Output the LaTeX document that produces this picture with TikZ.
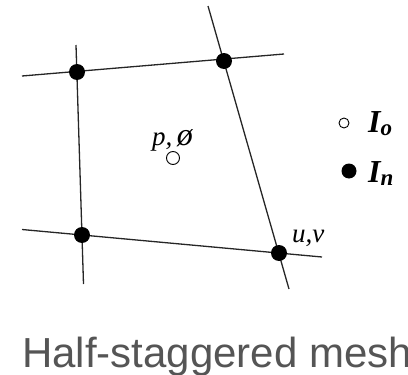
\documentclass[tikz,border=0pt]{standalone}
\usepackage{fontspec}
\setmainfont{Liberation Serif}
\newfontfamily\capfont{Liberation Sans}
\definecolor{capgray}{HTML}{555555}
\newcommand{\legsub}[1]{\raisebox{-3pt}{\fontsize{23}{24}\selectfont #1}}
\begin{document}
\begin{tikzpicture}[x=1pt,y=-1pt,
  meshline/.style={line width=1.3pt,black!85},
  fdot/.style={circle,fill=black,inner sep=0pt,minimum size=16pt},
  odot/.style={circle,draw=black,line width=0.9pt,fill=white,inner sep=0pt,minimum size=#1},
  lab/.style={inner sep=0pt,font=\fontsize{27}{29}\selectfont\itshape},
  leg/.style={inner sep=0pt,anchor=base west,font=\fontsize{32}{34}\selectfont\bfseries\itshape}]
\useasboundingbox (0,0) rectangle (408,375);
% line ends
\coordinate (t1) at (22,76);   \coordinate (t2) at (284,54);
\coordinate (b1) at (22,229.5); \coordinate (b2) at (322,257);
\coordinate (l1) at (76,45);   \coordinate (l2) at (83.5,284);
\coordinate (r1) at (208,6);   \coordinate (r2) at (289,289);
\draw[meshline] (t1) -- (t2);
\draw[meshline] (b1) -- (b2);
\draw[meshline] (l1) -- (l2);
\draw[meshline] (r1) -- (r2);
% mesh nodes
\node[fdot] (tl) at (77,72) {};
\node[fdot] (tr) at (224,61) {};
\node[fdot] (bl) at (82,235) {};
\node[fdot] (br) at (279,253) {};
% cell centre
\node[odot=13pt] (c) at (173,158) {};
\node[lab,anchor=base west] (pl) at (152,145) {p,\,{\fontsize{32}{34}\selectfont ø}};
\node[lab,anchor=base west] (uv) at (292,242) {u,v};
% legend
\node[odot=10pt] (lo) at (344,123) {};
\node[leg] (io) at (368,132) {I\legsub{o}};
\node[circle,fill=black,inner sep=0pt,minimum size=15pt] (ln) at (349,171) {};
\node[leg] (in) at (368,182) {I\legsub{n}};
% caption
\node[inner sep=0pt,anchor=base west,text=capgray,font=\capfont\fontsize{42}{46}\selectfont] (cap) at (22,367) {Half-staggered mesh};
\end{tikzpicture}
\end{document}
